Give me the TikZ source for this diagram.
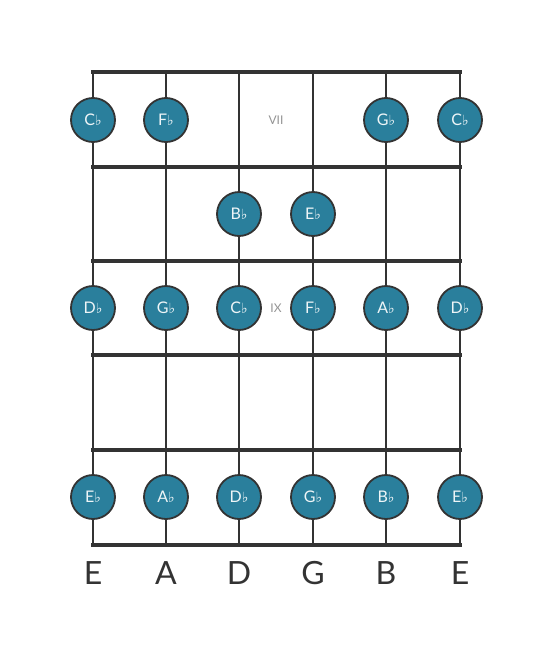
\documentclass[tikz,border=0pt]{standalone}
\usepackage{fontspec}
\setmainfont{Lato}
\newfontfamily\symfont{DejaVu Sans}
\begin{document}
\begin{tikzpicture}[x=1pt,y=-1pt,
  fret/.style={line width=4pt,draw=linec,line cap=rect},
  strg/.style={line width=2pt,draw=linec},
  note/.style={circle,draw=linec,line width=1.8pt,fill=notec,minimum size=44pt,inner sep=0pt,text=white!92!notec,font=\fontsize{16}{16}\selectfont},
  posmark/.style={text=gray!85,font=\fontsize{12}{12}\selectfont},
  sname/.style={text=linec,font=\fontsize{32}{32}\selectfont}]
\definecolor{linec}{HTML}{333333}
\definecolor{notec}{HTML}{2A7F9C}
\useasboundingbox (0,0) rectangle (553,656);
\def\fl{{\symfont\fontsize{14}{14}\selectfont ♭}}
% strings
\foreach \x [count=\i] in {93,166,239,313,386,460}{
  \coordinate (st\i) at (\x,72);
  \coordinate (sb\i) at (\x,545);
  \draw[strg] (st\i) -- (sb\i);
}
% frets
\foreach \y [count=\j] in {72,167,261,355,450,545}{
  \coordinate (fl\j) at (93,\y);
  \coordinate (fr\j) at (460,\y);
  \draw[fret] (fl\j) -- (fr\j);
}
% position markers
\node[posmark] (p7) at (276,120) {VII};
\node[posmark] (p9) at (276,308) {IX};
% row 1
\node[note] (n11) at (93,120) {C\fl};
\node[note] (n12) at (166,120) {F\fl};
\node[note] (n15) at (386,120) {G\fl};
\node[note] (n16) at (460,120) {C\fl};
% row 2
\node[note] (n23) at (239,214) {B\fl};
\node[note] (n24) at (313,214) {E\fl};
% row 3
\node[note] (n31) at (93,308) {D\fl};
\node[note] (n32) at (166,308) {G\fl};
\node[note] (n33) at (239,308) {C\fl};
\node[note] (n34) at (313,308) {F\fl};
\node[note] (n35) at (386,308) {A\fl};
\node[note] (n36) at (460,308) {D\fl};
% row 5
\node[note] (n51) at (93,497) {E\fl};
\node[note] (n52) at (166,497) {A\fl};
\node[note] (n53) at (239,497) {D\fl};
\node[note] (n54) at (313,497) {G\fl};
\node[note] (n55) at (386,497) {B\fl};
\node[note] (n56) at (460,497) {E\fl};
% string names
\foreach \x/\n [count=\i] in {93/E,166/A,239/D,313/G,386/B,460/E}{
  \node[sname] (name\i) at (\x,573) {\n};
}
\end{tikzpicture}
\end{document}
